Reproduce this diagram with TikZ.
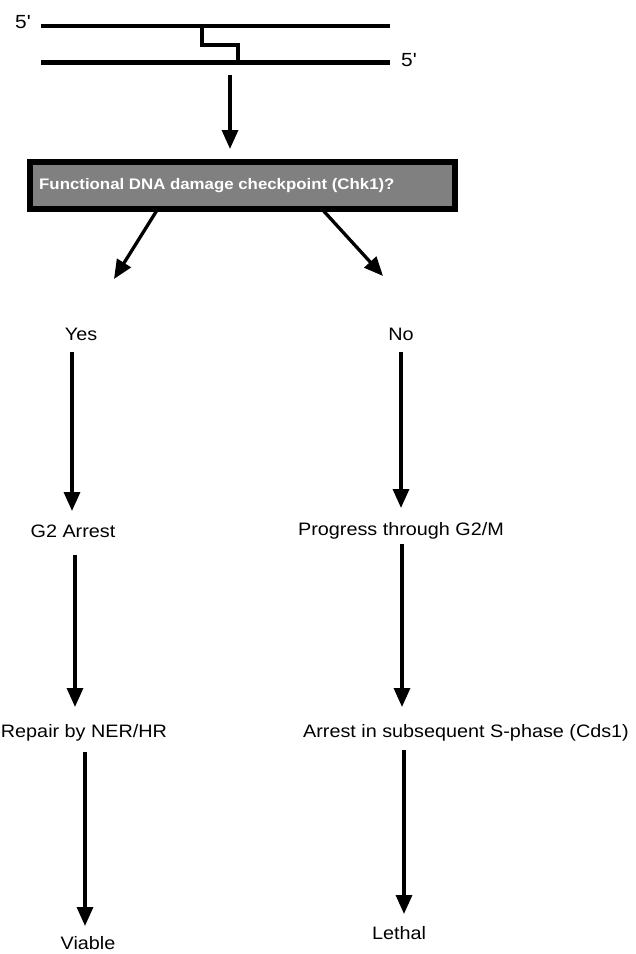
\documentclass[tikz,border=0pt]{standalone}
\usepackage{fontspec}
\setmainfont{Liberation Sans}
\newfontfamily\widesans[FakeStretch=1.1]{Liberation Sans}
\newfontfamily\boxsans[FakeStretch=1.1]{Liberation Sans}
\usetikzlibrary{arrows.meta}
\begin{document}
\begin{tikzpicture}[x=1pt,y=-1pt,
  lbl/.style={font=\widesans\fontsize{18}{20}\selectfont, inner sep=0pt},
  arr/.style={line width=3.3pt, -{Triangle[width=16pt,length=19pt]}},
  strand/.style={line width=4.5pt}]
\useasboundingbox (0,0) rectangle (636,954);
% DNA
\coordinate (t1) at (41,26);
\coordinate (t2) at (390,26);
\coordinate (b1) at (41,62.5);
\coordinate (b2) at (390,62.5);
\draw[strand] (t1) -- (t2);
\draw[strand] (b1) -- (b2);
\draw[line width=4pt] (201.5,26) -- (201.5,45) -- (238,45) -- (238,62.5);
\node[lbl, font=\widesans\fontsize{19}{21}\selectfont] (f1) at (23,22) {5'};
\node[lbl, font=\widesans\fontsize{19}{21}\selectfont] (f2) at (409,60) {5'};
\coordinate (dstart) at (230,75);
% box
\node[draw, line width=5.5pt, fill=black!50, minimum width=425pt, minimum height=47pt, inner sep=0pt, anchor=north west] (box) at (27,159) {};
\node[anchor=base west, text=white, font=\boxsans\bfseries\fontsize{15.3}{17}\selectfont, inner sep=0pt] (boxt) at (39,189) {Functional DNA damage checkpoint (Chk1)?};
\draw[arr] (dstart) -- (230,149);
% branches
\coordinate (ls) at (159,207);
\coordinate (rs) at (320,207);
\node[lbl] (yes) at (81,334) {Yes};
\node[lbl] (no) at (401,334) {No};
\draw[arr] (ls) -- (114,279);
\draw[arr] (rs) -- (383,276);
\node[lbl] (g2) at (73,531) {G2 Arrest};
\node[lbl] (prog) at (401,531) {Progress through G2/M};
\draw[arr] (72,352) -- (72,511);
\draw[arr] (401,352) -- (401,508);
\node[lbl] (rep) at (84,733) {Repair by NER/HR};
\node[lbl] (arrS) at (466,733) {Arrest in subsequent S-phase (Cds1)};
\draw[arr] (75,555) -- (75,707);
\draw[arr] (402,544) -- (402,707);
\node[lbl] (via) at (88,943) {Viable};
\node[lbl] (leth) at (399,933) {Lethal};
\draw[arr] (85,752) -- (85,926);
\draw[arr] (404,750) -- (404,914);
\end{tikzpicture}
\end{document}
